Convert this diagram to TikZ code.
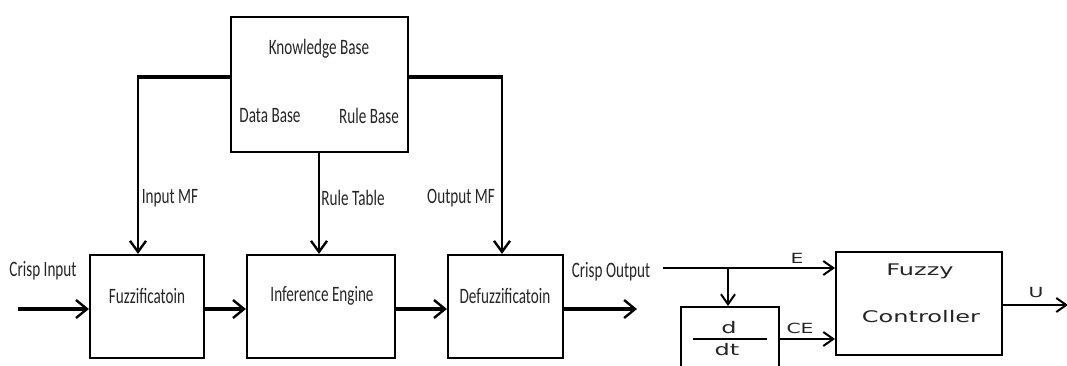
\documentclass[tikz,border=0pt]{standalone}
\usepackage{fontspec}
\setmainfont{Carlito}
\newfontfamily\wideff{DejaVu Sans}
\usetikzlibrary{arrows.meta}
\newcommand{\ltxt}[1]{\scalebox{0.69}[1]{\fontsize{22}{24}\selectfont #1}}
\newcommand{\rtxt}[1]{\scalebox{1.5}[1]{\wideff\fontsize{16}{18}\selectfont #1}}
\newcommand{\stxt}[1]{\scalebox{1.45}[1]{\wideff\fontsize{14}{16}\selectfont #1}}
\tikzset{
  blk/.style={draw, line width=2.2pt, rectangle, inner sep=0pt},
  conn/.style={line width=3.2pt, -{Straight Barb[length=11pt,width=18pt,line width=2.4pt]}},
  vconn/.style={line width=2.6pt, -{Straight Barb[length=11pt,width=16pt,line width=2.4pt]}},
  hbar/.style={line width=4pt},
  rconn/.style={line width=2.2pt, -{Straight Barb[length=10pt,width=14pt,line width=2pt]}},
  lab/.style={inner sep=0pt, text=black!85}
}
\begin{document}
\begin{tikzpicture}[x=1pt,y=-1pt]
\useasboundingbox (0,0) rectangle (1067,365);
\clip (0,0) rectangle (1067,365);
% blocks
\node[blk, minimum width=177pt, minimum height=135pt] (kb) at (319.5,84.5) {};
\node[blk, minimum width=114pt, minimum height=103pt] (fuzz) at (147,306.5) {};
\node[blk, minimum width=148pt, minimum height=103pt] (inf) at (321,306.5) {};
\node[blk, minimum width=115pt, minimum height=103pt] (defz) at (505.5,306.5) {};
\node[blk, line width=2pt, minimum width=98pt, minimum height=66pt] (ddt) at (730,340) {};
\node[blk, line width=2pt, minimum width=166pt, minimum height=103pt] (fc) at (919,303.5) {};
% block texts
\node[lab] (kbt) at (319,49) {\ltxt{Knowledge Base}};
\node[lab] (dbt) at (270,116) {\ltxt{Data Base}};
\node[lab] (rbt) at (369,116) {\ltxt{Rule Base}};
\node[lab] (fzt) at (147,296) {\ltxt{Fuzzificatoin}};
\node[lab] (ift) at (322,296) {\ltxt{Inference Engine}};
\node[lab] (dft) at (505,296) {\ltxt{Defuzzificatoin}};
\node[lab] (fct1) at (920,271) {\rtxt{Fuzzy}};
\node[lab] (fct2) at (921,317) {\rtxt{Controller}};
\node[lab] (dd) at (729,328) {\rtxt{d}};
\node[lab] (dtt) at (727,350) {\rtxt{dt}};
\coordinate (fl) at (693,339);
\coordinate (fr) at (767,339);
\draw[line width=2.2pt] (fl) -- (fr);
% knowledge base connectors
\coordinate (kl) at (138,77);
\coordinate (kr) at (502,77);
\coordinate (km) at (319,152);
\draw[vconn] (kb.west |- kl) -- (kl) -- (kl |- fuzz.north);
\draw[vconn] (kb.east |- kr) -- (kr) -- (kr |- defz.north);
\draw[hbar] (kb.west |- kl) -- ([xshift=-1pt]kl);
\draw[hbar] (kb.east |- kr) -- ([xshift=1pt]kr);
\draw[vconn] (km) -- (km |- inf.north);
\node[lab] (imf) at (170,198) {\ltxt{Input MF}};
\node[lab] (rtb) at (353,198) {\ltxt{Rule Table}};
\node[lab] (omf) at (461,198) {\ltxt{Output MF}};
% main chain
\coordinate (cin) at (18,309);
\coordinate (cout) at (637,309);
\draw[conn] (cin) -- (cin -| fuzz.west);
\draw[conn] (fuzz.east |- cin) -- (inf.west |- cin);
\draw[conn] (inf.east |- cin) -- (defz.west |- cin);
\draw[conn] (defz.east |- cout) -- (cout);
\node[lab] (cit) at (43,271) {\ltxt{Crisp Input}};
\node[lab] (cot) at (611,272) {\ltxt{Crisp Output}};
% controller part
\coordinate (es) at (663,268);
\coordinate (br) at (728,268);
\draw[rconn] (es) -- (es -| fc.west);
\draw[rconn] (br) -- (br |- ddt.north);
\coordinate (ce) at (779,339);
\draw[rconn] (ddt.east |- ce) -- (ce -| fc.west);
\coordinate (uo) at (1068,305);
\draw[rconn] (fc.east |- uo) -- (uo);
\node[lab] (el) at (797,258) {\stxt{E}};
\node[lab] (cel) at (800,328) {\stxt{CE}};
\node[lab] (ul) at (1036,292) {\stxt{U}};
\end{tikzpicture}
\end{document}
